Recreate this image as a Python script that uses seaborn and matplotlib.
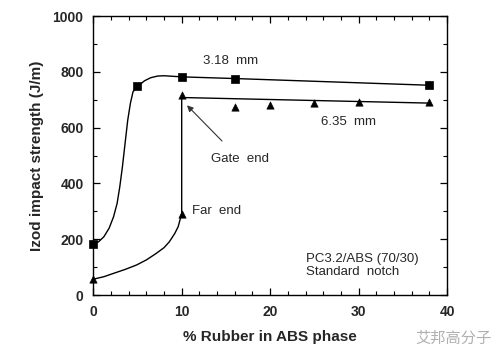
"""Izod impact strength vs % rubber in ABS phase (PC3.2/ABS 70/30)."""

# %%
import matplotlib
matplotlib.use("Agg")
import matplotlib.pyplot as plt
import seaborn as sns
from matplotlib.ticker import MultipleLocator

# %% data
# 3.18 mm bars (squares)
thin_rubber = [0, 5, 10, 16, 38]
thin_izod = [183, 750, 782, 776, 752]
# hand-drawn smooth curve through the squares
thin_curve_x = [0, 0.6, 1.2, 1.8, 2.3, 2.7, 3.0, 3.3, 3.6, 3.9, 4.2, 4.5, 5.1, 5.8, 6.5, 7.3, 8.0, 9.0, 10, 16, 38]
thin_curve_y = [183, 191, 209, 240, 281, 329, 388, 460, 544, 627, 687, 729, 750, 768, 779, 785, 786, 784, 782, 776, 752]

# 6.35 mm bars, gate end (triangles)
gate_rubber = [10, 16, 20, 25, 30, 38]
gate_izod = [717, 673, 680, 687, 693, 692]
gate_line_x = [10, 38]
gate_line_y = [708, 688]

# 6.35 mm bars, far end (triangles)
far_rubber = [0, 10]
far_izod = [57, 292]
far_curve_x = [0, 1.2, 2.3, 3.6, 4.9, 6.0, 7.1, 8.0, 8.6, 9.2, 9.6, 10, 10]
far_curve_y = [57, 66, 78, 92, 108, 126, 149, 170, 191, 220, 245, 292, 708]

# %% plot
sns.set_style("ticks")
plt.rcParams["font.family"] = ["Liberation Sans", "DejaVu Sans"]

fig = plt.figure(figsize=(5.04, 3.56), dpi=100)
ax = fig.add_axes([0.185, 0.171, 0.702, 0.784])

line_kw = dict(color="black", linewidth=1.0, estimator=None, sort=False, ax=ax, legend=False)
sns.lineplot(x=thin_curve_x, y=thin_curve_y, **line_kw)
sns.lineplot(x=gate_line_x, y=gate_line_y, **line_kw)
sns.lineplot(x=far_curve_x, y=far_curve_y, **line_kw)

sns.scatterplot(x=thin_rubber, y=thin_izod, marker="s", s=38, color="black", edgecolor="black", ax=ax, zorder=3)
sns.scatterplot(x=gate_rubber, y=gate_izod, marker="^", s=28, color="black", edgecolor="black", ax=ax, zorder=3)
sns.scatterplot(x=far_rubber, y=far_izod, marker="^", s=28, color="black", edgecolor="black", ax=ax, zorder=3)
for art in ax.lines + ax.collections:
    art.set_clip_on(False)

ax.set_xlim(0, 40)
ax.set_ylim(0, 1000)
ax.xaxis.set_major_locator(MultipleLocator(10))
ax.xaxis.set_minor_locator(MultipleLocator(2))
ax.yaxis.set_major_locator(MultipleLocator(200))
ax.yaxis.set_minor_locator(MultipleLocator(100))
ax.tick_params(which="both", direction="in", top=True, right=True, color="black")
ax.tick_params(which="major", length=5, width=0.9)
ax.tick_params(which="minor", length=3, width=0.8)
ax.tick_params(axis="both", labelsize=10, pad=7)
for lab in ax.get_xticklabels() + ax.get_yticklabels():
    lab.set_fontweight("bold")
for s in ax.spines.values():
    s.set_visible(True)
    s.set_color("black")
    s.set_linewidth(1.0)

ax.set_xlabel("% Rubber in ABS phase", fontsize=11, fontweight="bold", labelpad=8)
ax.set_ylabel("Izod impact strength (J/m)", fontsize=11, fontweight="bold", labelpad=6)

txt_kw = dict(fontsize=9.5, va="center", fontweight="medium")
ax.text(12.4, 839, "3.18  mm", **txt_kw)
ax.text(25.8, 621, "6.35  mm", **txt_kw)
ax.text(11.2, 301, "Far  end", **txt_kw)
ax.annotate("Gate  end", xy=(10.6, 680), xytext=(13.3, 487),
            arrowprops=dict(arrowstyle="-|>", color="#333333", lw=0.8,
                            shrinkA=9, shrinkB=0, mutation_scale=9), **txt_kw)
ax.text(24.0, 128, "PC3.2/ABS (70/30)", **txt_kw)
ax.text(24.0, 83, "Standard  notch", **txt_kw)

# watermark
fig.text(0.975, 0.05, "艾邦高分子", fontsize=11, color="#b0b0b0", ha="right", va="center",
         family=["Noto Sans CJK SC", "DejaVu Sans"])

fig.savefig("out.png", dpi=100)
